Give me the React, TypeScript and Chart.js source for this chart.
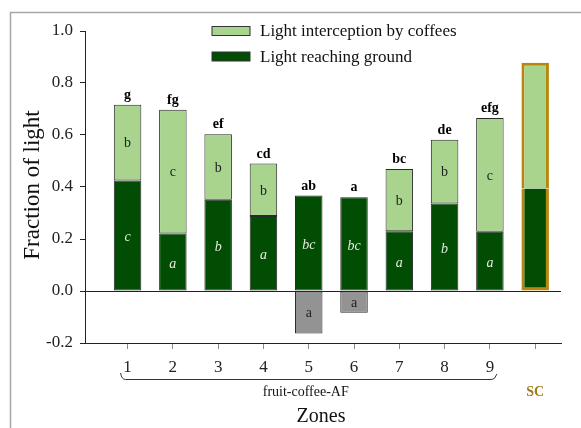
import React, { useEffect, useRef } from 'react';
import { Chart, registerables } from 'chart.js';

Chart.register(...registerables);

// Zone positions along the x axis (10 = sun-coffee reference plot)
const zones = [1, 2, 3, 4, 5, 6, 7, 8, 9, 10];
const zoneLabels = ['1', '2', '3', '4', '5', '6', '7', '8', '9', ''];

// Fraction of incident light reaching the ground
const groundLight = [0.425, 0.221, 0.351, 0.288, 0.367, 0.361, 0.230, 0.337, 0.228, 0.394];
// Fraction of light intercepted by the coffee layer (negative in zones 5 and 6)
const coffeeInterception = [0.291, 0.476, 0.252, 0.202, -0.163, -0.084, 0.239, 0.245, 0.437, 0.484];

// Significance letters
const totalLetters = ['g', 'fg', 'ef', 'cd', 'ab', 'a', 'bc', 'de', 'efg', ''];
const coffeeLetters = ['b', 'c', 'b', 'b', 'a', 'a', 'b', 'b', 'c', ''];
const groundLetters = ['c', 'a', 'b', 'a', 'bc', 'bc', 'a', 'b', 'a', ''];

const yTicks = [-0.2, 0, 0.2, 0.4, 0.6, 0.8, 1.0];

const SERIF = "'Liberation Serif', 'Times New Roman', serif";
const DARK_GREEN = '#014d03';
const LIGHT_GREEN = '#a8d48e';
const GREY = '#939393';
const GOLD = '#b8860b';
const SC_INDEX = 9;

const overlayPlugin = {
  id: 'overlay',
  afterDraw(chart: any) {
    const { ctx, chartArea } = chart;
    const xs = chart.scales.x;
    const ys = chart.scales.y;
    ctx.save();

    // outer frame (top and left edges)
    ctx.strokeStyle = '#a6a6a6';
    ctx.lineWidth = 1.5;
    ctx.beginPath();
    ctx.moveTo(10.5, 428);
    ctx.lineTo(10.5, 12.5);
    ctx.lineTo(581, 12.5);
    ctx.stroke();

    // legend (top entry = upper stack segment)
    const legendItems = [
      { label: chart.data.datasets[1].label, color: LIGHT_GREEN, y: 31 },
      { label: chart.data.datasets[0].label, color: DARK_GREEN, y: 56.5 },
    ];
    ctx.font = `17px ${SERIF}`;
    ctx.textBaseline = 'middle';
    ctx.textAlign = 'left';
    legendItems.forEach((it) => {
      ctx.fillStyle = '#333';
      ctx.fillRect(211.5, it.y - 5, 39, 10);
      ctx.fillStyle = it.color;
      ctx.fillRect(212.5, it.y - 4, 37, 8);
      ctx.fillStyle = '#111';
      ctx.fillText(it.label, 260, it.y + 1);
    });

    // letters on bars
    const groundMeta = chart.getDatasetMeta(0);
    const coffeeMeta = chart.getDatasetMeta(1);
    ctx.textAlign = 'center';
    zones.forEach((z, i) => {
      const g = groundMeta.data[i];
      const c = coffeeMeta.data[i];
      const top = Math.max(groundLight[i], groundLight[i] + Math.max(coffeeInterception[i], 0));
      if (totalLetters[i]) {
        ctx.font = `bold 14px ${SERIF}`;
        ctx.fillStyle = '#000';
        ctx.textBaseline = 'alphabetic';
        ctx.fillText(totalLetters[i], g.x, ys.getPixelForValue(top) - 6);
      }
      ctx.textBaseline = 'middle';
      if (groundLetters[i]) {
        ctx.font = `italic 14px ${SERIF}`;
        ctx.fillStyle = '#e3eddc';
        ctx.fillText(groundLetters[i], g.x, (g.y + g.base) / 2 + 2);
      }
      if (coffeeLetters[i]) {
        ctx.font = `14px ${SERIF}`;
        ctx.fillStyle = '#222';
        ctx.fillText(coffeeLetters[i], c.x, (c.y + c.base) / 2 + 1);
      }
    });

    // y-axis title
    ctx.save();
    ctx.translate(33, 185);
    ctx.rotate(-Math.PI / 2);
    ctx.font = `23px ${SERIF}`;
    ctx.fillStyle = '#111';
    ctx.textAlign = 'center';
    ctx.textBaseline = 'middle';
    ctx.fillText('Fraction of light', 0, 0);
    ctx.restore();

    // bracket grouping zones 1-9
    const bl = xs.getPixelForValue(1) - 7;
    const br = xs.getPixelForValue(9) + 7;
    const by = 379.5;
    ctx.strokeStyle = '#333';
    ctx.lineWidth = 1;
    ctx.beginPath();
    ctx.moveTo(bl, 373);
    ctx.quadraticCurveTo(bl + 1, by, bl + 5, by);
    ctx.lineTo(br - 5, by);
    ctx.quadraticCurveTo(br - 2, by, br, 374);
    ctx.stroke();

    ctx.textAlign = 'center';
    ctx.textBaseline = 'middle';
    ctx.font = `14px ${SERIF}`;
    ctx.fillStyle = '#111';
    ctx.fillText('fruit-coffee-AF', (bl + br) / 2 - 3, 392.5);

    ctx.font = `bold 14px ${SERIF}`;
    ctx.fillStyle = '#a37a1c';
    ctx.fillText('SC', xs.getPixelForValue(zones[SC_INDEX]), 392.5);

    ctx.font = `20px ${SERIF}`;
    ctx.fillStyle = '#111';
    ctx.fillText('Zones', (chartArea.left + chartArea.right) / 2 - 2, 417);

    ctx.restore();
  },
};

export default function App() {
  const canvasRef = useRef<HTMLCanvasElement | null>(null);

  useEffect(() => {
    const canvas = canvasRef.current;
    if (!canvas) return;

    const scBorder = (skip: 'top' | 'bottom') => (ctx: any) =>
      ctx.dataIndex === SC_INDEX
        ? { top: skip === 'top' ? 0 : 3, bottom: skip === 'bottom' ? 0 : 3, left: 3, right: 3 }
        : 1;
    const scColor = (ctx: any) => (ctx.dataIndex === SC_INDEX ? GOLD : '#2a2a2a');

    const chart = new Chart(canvas, {
      type: 'bar',
      data: {
        datasets: [
          {
            label: 'Light reaching ground',
            data: zones.map((z, i) => ({ x: z, y: groundLight[i] })),
            backgroundColor: DARK_GREEN,
            borderColor: scColor,
            borderWidth: scBorder('top'),
            borderSkipped: false,
            categoryPercentage: 1,
            barPercentage: 0.607,
          },
          {
            label: 'Light interception by coffees',
            data: zones.map((z, i) => ({ x: z, y: coffeeInterception[i] })),
            backgroundColor: coffeeInterception.map((v) => (v < 0 ? GREY : LIGHT_GREEN)),
            borderColor: scColor,
            borderWidth: scBorder('bottom'),
            borderSkipped: false,
            categoryPercentage: 1,
            barPercentage: 0.607,
          },
        ],
      },
      options: {
        responsive: false,
        animation: false,
        devicePixelRatio: 1,
        events: [],
        layout: { padding: { left: 0, right: 20, top: 31, bottom: 0 } },
        plugins: {
          legend: { display: false },
          tooltip: { enabled: false },
        },
        scales: {
          x: {
            type: 'linear',
            stacked: true,
            min: 0.06,
            max: 10.57,
            offset: false,
            afterBuildTicks: (s: any) => {
              s.ticks = zones.map((v) => ({ value: v }));
            },
            afterFit: (s: any) => {
              s.height = 85;
              s.paddingLeft = 0;
              s.paddingRight = 0;
            },
            ticks: {
              autoSkip: false,
              maxRotation: 0,
              padding: 8,
              color: '#222',
              font: { family: SERIF, size: 17 },
              callback: (_v: any, index: number) => zoneLabels[index] ?? '',
            },
            grid: {
              offset: false,
              drawOnChartArea: false,
              drawTicks: true,
              tickLength: 6,
              tickColor: '#8a8a8a',
            },
            border: { display: true, color: '#222', width: 1 },
          },
          y: {
            stacked: true,
            min: yTicks[0],
            max: yTicks[yTicks.length - 1],
            afterBuildTicks: (s: any) => {
              s.ticks = yTicks.map((v) => ({ value: v }));
            },
            afterFit: (s: any) => {
              s.width = 85;
              s.paddingTop = 0;
              s.paddingBottom = 0;
            },
            ticks: {
              padding: 7,
              color: '#222',
              font: { family: SERIF, size: 17 },
              callback: (v: any) => Number(v).toFixed(1),
            },
            grid: {
              drawOnChartArea: true,
              drawTicks: true,
              tickLength: 5,
              tickColor: '#222',
              color: (c: any) => (c.tick && Math.abs(c.tick.value) < 1e-9 ? '#222' : 'rgba(0,0,0,0)'),
            },
            border: { display: true, color: '#222', width: 1 },
          },
        },
      },
      plugins: [overlayPlugin],
    } as any);

    return () => chart.destroy();
  }, []);

  return (
    <div style={{ position: 'absolute', left: 0, top: 0, width: 581, height: 428, background: '#fff' }}>
      <canvas ref={canvasRef} width={581} height={428} style={{ width: 581, height: 428, display: 'block' }} />
    </div>
  );
}
